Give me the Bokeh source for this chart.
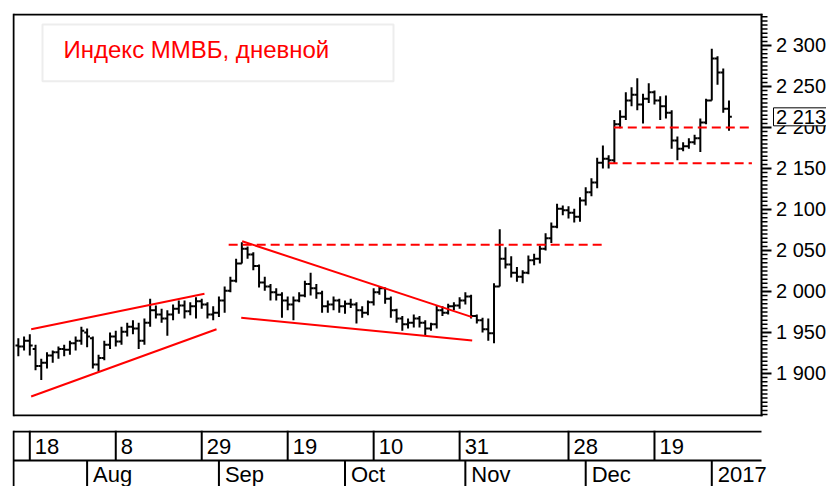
import pandas as pd
from bokeh.plotting import figure
from bokeh.layouts import column
from bokeh.models import Range1d, Label, BoxAnnotation
from bokeh.core.properties import value
from bokeh.embed import file_html
from bokeh.resources import INLINE

# ---------------- data ----------------
holidays = ["2016-11-04", "2017-01-02"]
trading_days = [d for d in pd.bdate_range("2016-07-14", "2017-01-06")
                if d.strftime("%Y-%m-%d") not in holidays]

opens = [1934, 1933, 1940, 1930, 1909, 1913, 1922, 1926, 1930, 1929,
         1937, 1940, 1950, 1943, 1911, 1919, 1935, 1945, 1939, 1951,
         1957, 1955, 1940, 1962, 1977, 1972, 1967, 1972, 1979, 1983,
         1976, 1982, 1988, 1984, 1972, 1974, 1989, 2001, 2013, 2034,
         2052, 2045, 2031, 2011, 2006, 1999, 1996, 1989, 1984, 1989,
         1995, 2009, 2004, 1998, 1982, 1984, 1989, 1982, 1985, 1984,
         1977, 1974, 1987, 1999, 2004, 1991, 1977, 1967, 1960, 1962,
         1967, 1962, 1955, 1960, 1977, 1974, 1982, 1983, 1989, 1994,
         1970, 1965, 1954, 1949, 2006, 2040, 2033, 2023, 2018, 2023,
         2038, 2040, 2052, 2065, 2079, 2101, 2099, 2096, 2091, 2111,
         2121, 2133, 2157, 2162, 2160, 2204, 2213, 2233, 2240, 2228,
         2235, 2243, 2233, 2226, 2218, 2184, 2174, 2177, 2182, 2187,
         2206, 2233, 2284, 2267, 2223]
highs = [1943, 1945, 1948, 1935, 1918, 1926, 1928, 1933, 1935, 1940,
         1945, 1957, 1955, 1945, 1923, 1940, 1950, 1952, 1957, 1962,
         1965, 1962, 1967, 1991, 1983, 1979, 1977, 1984, 1989, 1989,
         1987, 1993, 1991, 1987, 1982, 1994, 2006, 2018, 2040, 2060,
         2055, 2048, 2033, 2018, 2009, 2004, 1999, 1994, 1994, 1999,
         2013, 2023, 2009, 2001, 1989, 1994, 1991, 1989, 1991, 1987,
         1982, 1989, 2004, 2006, 2005, 1994, 1979, 1970, 1967, 1972,
         1970, 1965, 1962, 1983, 1982, 1985, 1987, 1993, 1999, 1996,
         1972, 1968, 1967, 2010, 2076, 2054, 2043, 2030, 2026, 2044,
         2046, 2056, 2071, 2084, 2107, 2105, 2104, 2101, 2115, 2127,
         2138, 2163, 2178, 2166, 2209, 2221, 2243, 2249, 2260, 2241,
         2254, 2245, 2238, 2239, 2221, 2189, 2182, 2187, 2191, 2211,
         2235, 2296, 2287, 2272, 2233]
lows = [1921, 1928, 1922, 1904, 1892, 1906, 1913, 1918, 1921, 1923,
        1928, 1935, 1932, 1906, 1902, 1916, 1930, 1933, 1935, 1945,
        1948, 1930, 1935, 1957, 1967, 1962, 1946, 1965, 1973, 1967,
        1971, 1967, 1979, 1967, 1965, 1969, 1974, 1999, 2011, 2034,
        2040, 2026, 2005, 2001, 1989, 1989, 1968, 1977, 1965, 1987,
        1993, 1995, 1991, 1974, 1974, 1977, 1974, 1973, 1980, 1961,
        1968, 1971, 1983, 1996, 1985, 1968, 1962, 1952, 1955, 1956,
        1956, 1946, 1952, 1955, 1970, 1972, 1977, 1979, 1984, 1967,
        1961, 1950, 1940, 1937, 2006, 2028, 2017, 2012, 2010, 2021,
        2032, 2034, 2050, 2059, 2077, 2093, 2089, 2084, 2085, 2105,
        2116, 2126, 2150, 2150, 2156, 2199, 2209, 2226, 2221, 2205,
        2230, 2228, 2209, 2211, 2174, 2160, 2171, 2174, 2179, 2170,
        2204, 2233, 2252, 2218, 2196]
closes = [1933, 1940, 1934, 1909, 1913, 1922, 1926, 1930, 1929, 1937,
          1940, 1952, 1945, 1911, 1919, 1935, 1945, 1939, 1951, 1957,
          1955, 1940, 1962, 1977, 1972, 1967, 1972, 1979, 1983, 1976,
          1982, 1988, 1984, 1972, 1974, 1989, 2001, 2013, 2034, 2052,
          2045, 2031, 2011, 2006, 1999, 1996, 1989, 1984, 1989, 1995,
          2009, 2004, 1998, 1982, 1984, 1989, 1982, 1985, 1984, 1977,
          1974, 1987, 1999, 2004, 1991, 1977, 1967, 1960, 1962, 1967,
          1962, 1955, 1960, 1977, 1974, 1982, 1983, 1989, 1994, 1970,
          1965, 1954, 1949, 2006, 2040, 2033, 2023, 2018, 2023, 2038,
          2040, 2052, 2065, 2079, 2101, 2099, 2096, 2091, 2111, 2121,
          2133, 2157, 2162, 2160, 2204, 2213, 2233, 2240, 2228, 2235,
          2243, 2233, 2226, 2218, 2184, 2174, 2177, 2182, 2187, 2206,
          2233, 2284, 2267, 2223, 2213]

# trend lines (bar index, price)
trend_x = [[2.24, 32.48], [2.24, 34.58], [39.06, 79.19], [38.89, 79.19]]
trend_y = [[1954.0, 1997.2], [1871.9, 1954.0], [2061.3, 1968.7], [1967.9, 1940.2]]
# horizontal levels (dashed)
level_x = [[36.7, 101.8], [103.9, 128.3], [103.0, 128.0]]
level_p = [2057, 2200, 2156.5]

price_ticks = [1900, 1950, 2000, 2050, 2100, 2150, 2200, 2250, 2300]
price_minor_step = 5
day_tick_dates = ["2016-07-18", "2016-08-08", "2016-08-29", "2016-09-19",
                  "2016-10-10", "2016-10-31", "2016-11-28", "2016-12-19"]
day_tick_labels = ["18", "8", "29", "19", "10", "31", "28", "19"]
month_labels = ["Aug", "Sep", "Oct", "Nov", "Dec", "2017"]
title_text = "Индекс ММВБ, дневной"

# ---------------- layout constants (page pixels) ----------------
W = 826
FL, FT = 12, 13            # frame left / top on the page
FH = 403                   # frame height (13..416)
BAR_PX = 5.731             # pixels per trading day
x_lo = 2 - (29.3 - FL) / BAR_PX
x_hi = x_lo + (W - FL) / BAR_PX
PX_PER_PT = 0.82
y_hi = 2354.87 - 1.2195 * FT
y_lo = y_hi - FH / PX_PER_PT


def px_x(px):
    return x_lo + (px - FL) / BAR_PX


def px_y(py):
    return y_hi - (py - FT) / PX_PER_PT


def fmt(v):
    v = int(round(v))
    return f"{v // 1000} {v % 1000:03d}"


idx = list(range(len(trading_days)))
date_str = [d.strftime("%Y-%m-%d") for d in trading_days]
day_tick_idx = [date_str.index(d) for d in day_tick_dates]
month_idx = [i for i in range(1, len(trading_days))
             if trading_days[i].month != trading_days[i - 1].month]

# ---------------- main chart ----------------
p = figure(width=W, height=430, x_range=Range1d(x_lo, x_hi), y_range=Range1d(y_lo, y_hi),
           x_axis_location=None, y_axis_location=None,
           output_backend="svg", toolbar_location=None,
           min_border_left=FL, min_border_right=0, min_border_top=FT, min_border_bottom=14)
p.grid.visible = False
p.outline_line_color = None
p.background_fill_color = "white"
p.border_fill_color = "white"

# OHLC bars
p.segment(x0=idx, y0=lows, x1=idx, y1=highs, line_color="black", line_width=2)
p.segment(x0=[i - 0.5 for i in idx], y0=opens, x1=idx, y1=opens, line_color="black", line_width=2)
p.segment(x0=idx, y0=closes, x1=[i + 0.5 for i in idx], y1=closes, line_color="black", line_width=2)

# trend lines and levels
p.multi_line(xs=trend_x, ys=trend_y, line_color="#ff0000", line_width=2)
p.multi_line(xs=level_x, ys=[[v, v] for v in level_p], line_color="#ff0000",
             line_width=2, line_dash="9 5")

# chart border (price scale sits to the right of it)
bx_l, bx_r = px_x(13), px_x(761)
by_t, by_b = px_y(14), px_y(415)
p.segment(x0=[bx_l, bx_l, bx_l, bx_r], y0=[y_lo, by_t, by_b, y_lo],
          x1=[bx_l, px_x(762), px_x(762), bx_r], y1=[y_hi, by_t, by_b, y_hi],
          line_color="black", line_width=2)

# price scale: ticks and labels drawn on the chart's own y scale
minor_ticks = [v for v in range(1850, 2340, price_minor_step) if v not in price_ticks]
p.segment(x0=[bx_r] * len(price_ticks), y0=price_ticks, x1=[px_x(771)] * len(price_ticks),
          y1=price_ticks, line_color="black", line_width=2)
p.segment(x0=[bx_r] * len(minor_ticks), y0=minor_ticks, x1=[px_x(767)] * len(minor_ticks),
          y1=minor_ticks, line_color="black", line_width=1.5)
p.text(x=[px_x(775.5)] * len(price_ticks), y=price_ticks, text=[fmt(t) for t in price_ticks],
       text_baseline="middle", text_align="left", text_font=value("Liberation Sans"),
       text_font_size="20px", text_color="black")

# last value box
half = 9 / PX_PER_PT
p.quad(left=[px_x(773)], right=[px_x(840)], bottom=[closes[-1] - half], top=[closes[-1] + half],
       fill_color="white", line_color="black", line_width=1)
p.text(x=[px_x(775.5)], y=[closes[-1]], text=[fmt(closes[-1])], text_baseline="middle",
       text_align="left", text_font=value("Liberation Sans"), text_font_size="20px",
       text_color="black")

# title box
p.add_layout(BoxAnnotation(left=px_x(42), right=px_x(393), top=px_y(24), bottom=px_y(80.7),
                           fill_color="white", fill_alpha=1, line_color="#c4c4c4", line_width=2))
p.add_layout(Label(x=px_x(63), y=px_y(49), text=title_text, text_color="#ff0000",
                   text_font="Liberation Sans", text_font_size="24px", text_baseline="middle"))

# ---------------- date axis panel ----------------
DH = 56
q = figure(width=W, height=DH, x_range=p.x_range, y_range=Range1d(DH, 0),
           x_axis_location=None, y_axis_location=None,
           output_backend="svg", toolbar_location=None,
           min_border_left=FL, min_border_right=0, min_border_top=0, min_border_bottom=0)
q.grid.visible = False
q.outline_line_color = None
q.background_fill_color = "white"
q.border_fill_color = "white"

q.segment(x0=[bx_l, bx_l], y0=[1, 30], x1=[bx_r, bx_r], y1=[1, 30], line_color="black", line_width=2)
q.segment(x0=[bx_l], y0=[0], x1=[bx_l], y1=[DH], line_color="black", line_width=2)
q.segment(x0=day_tick_idx, y0=[0] * len(day_tick_idx), x1=day_tick_idx, y1=[30] * len(day_tick_idx),
          line_color="black", line_width=2)
q.segment(x0=month_idx, y0=[30] * len(month_idx), x1=month_idx, y1=[DH] * len(month_idx),
          line_color="black", line_width=2)
q.text(x=day_tick_idx, y=[15.8] * len(day_tick_idx), text=day_tick_labels, x_offset=5,
       text_baseline="middle", text_font=value("Liberation Sans"), text_font_size="22px",
       text_color="black")
q.text(x=month_idx, y=[44.2] * len(month_idx), text=month_labels, x_offset=6,
       text_baseline="middle", text_font=value("Liberation Sans"), text_font_size="22px",
       text_color="black")

layout = column(p, q)
open("out.html", "w").write(file_html(layout, INLINE))
